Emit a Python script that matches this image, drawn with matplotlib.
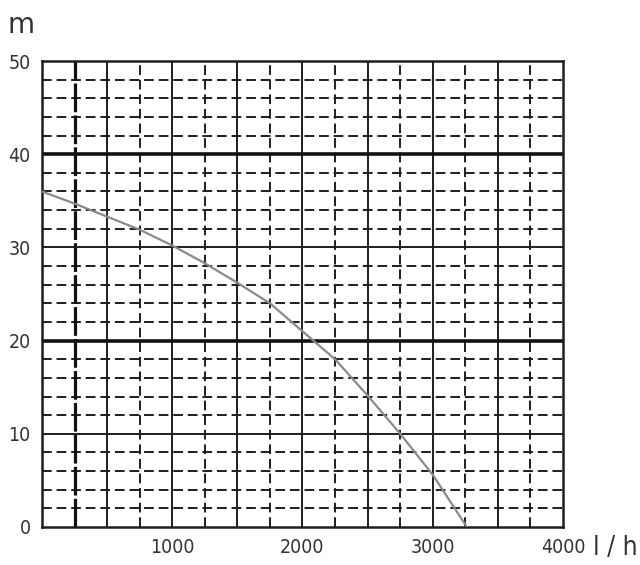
import matplotlib
matplotlib.use("Agg")
import matplotlib.pyplot as plt

# Pump curve data (flow l/h, head m)
flow = [0, 250, 500, 750, 1000, 1250, 1500, 1750, 2000, 2250, 2500, 2750, 3000, 3262]
head = [36.0, 34.7, 33.3, 31.9, 30.2, 28.3, 26.2, 24.0, 21.0, 18.0, 14.1, 10.0, 5.6, 0.0]

x_ticks = [1000, 2000, 3000, 4000]
y_ticks = [0, 10, 20, 30, 40, 50]
x_solid = [500, 1000, 1500, 2000, 2500, 3000, 3500]
x_dashed = [750, 1250, 1750, 2250, 2750, 3250, 3750]
x_bold_dashed = [250]
y_solid = [10, 30]
y_bold = [20, 40]
y_dashed = [2, 4, 6, 8, 12, 14, 16, 18, 22, 24, 26, 28, 32, 34, 36, 38, 42, 44, 46, 48]

plt.rcParams['font.family'] = ['DejaVu Sans']

fig = plt.figure(figsize=(6.4, 5.65), dpi=100)
ax = fig.add_axes([0.0656, 0.0673, 0.8141, 0.8247])
ax.set_xlim(0, 4000)
ax.set_ylim(0, 50)

lc = '#1e1e1e'
dash = (0, (5, 2.5))
for v in y_dashed:
    ax.axhline(v, color=lc, lw=1.4, ls=dash, zorder=1)
for v in x_dashed:
    ax.axvline(v, color=lc, lw=1.4, ls=dash, zorder=1)
for v in x_bold_dashed:
    ax.axvline(v, color='#111111', lw=2.3, ls=(0, (9, 1)), zorder=1)
for v in x_solid:
    ax.axvline(v, color=lc, lw=1.4, zorder=1)
for v in y_solid:
    ax.axhline(v, color=lc, lw=1.4, zorder=1)
for v in y_bold:
    ax.axhline(v, color='#111111', lw=2.6, zorder=1)

ax.plot(flow, head, color='#8a8a8a', lw=1.6, zorder=3, solid_joinstyle='round')

for s in ax.spines.values():
    s.set_color(lc)
    s.set_linewidth(1.8)

ax.set_xticks(x_ticks)
ax.set_yticks(y_ticks)
ax.set_xticklabels([str(t) for t in x_ticks])
ax.set_yticklabels([str(t) for t in y_ticks])
ax.tick_params(length=0, labelsize=14, colors='#333333', pad=8)
for lab in ax.get_xticklabels() + ax.get_yticklabels():
    lab.set_fontstretch('condensed')

fig.text(0.033, 0.955, 'm', fontsize=20, color='#333333', ha='center', va='center')
fig.text(0.926, 0.03, 'l / h', fontsize=19, color='#333333', ha='left', va='center',
         fontstretch='condensed')

fig.savefig('out.png', dpi=100, facecolor='white')
